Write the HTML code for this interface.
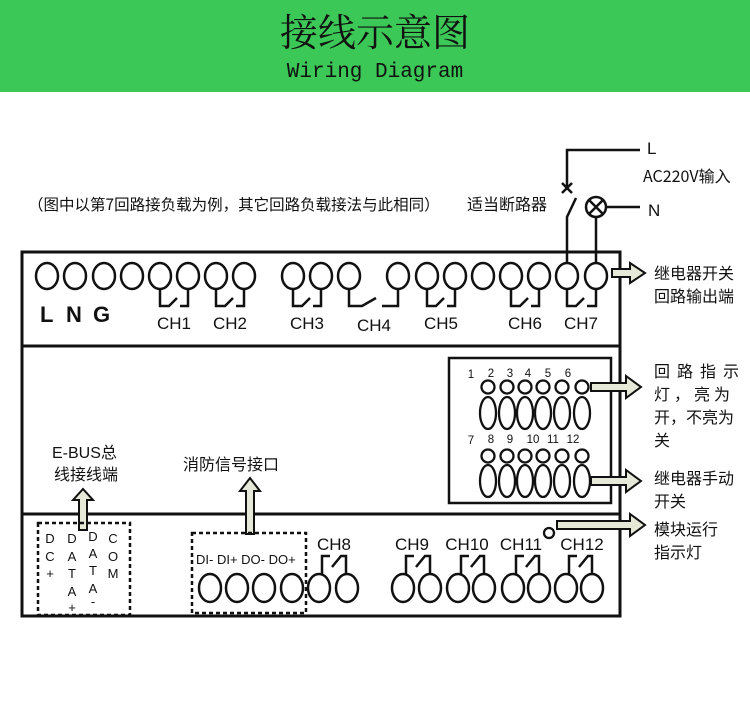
<!DOCTYPE html>
<html><head><meta charset="utf-8"><style>
html,body{margin:0;padding:0;background:#fff;}
svg{display:block;}
text{font-family:"Liberation Sans","Noto Sans CJK SC",sans-serif;fill:#111;}
.cjk{font-family:"Noto Sans CJK SC","WenQuanYi Zen Hei",sans-serif;}
</style></head><body>
<svg width="750" height="712" viewBox="0 0 750 712" xmlns="http://www.w3.org/2000/svg">
<rect x="0" y="0" width="750" height="92" fill="#3cc857"/>
<text x="375" y="46" text-anchor="middle" font-size="38" style="font-family:'Noto Serif CJK SC',serif">接线示意图</text>
<text x="375" y="77" text-anchor="middle" font-size="21" style="font-family:'Liberation Mono',monospace">Wiring Diagram</text>

<text x="28" y="210" font-size="15.5" class="cjk">（图中以第7回路接负载为例，其它回路负载接法与此相同）</text>
<text x="467" y="210" font-size="16" class="cjk">适当断路器</text>
<text x="647" y="154" font-size="17">L</text>
<text x="643" y="182" font-size="16" class="cjk">AC220V输入</text>
<text x="648" y="216" font-size="17">N</text>

<g fill="none" stroke="#111" stroke-width="2.5">
<path d="M567 262 V217 L576 198"/>
<path d="M567 188 V150 H640"/>
<path d="M562 183 L572 193 M572 183 L562 193"/>
<circle cx="596" cy="207" r="10"/>
<path d="M589 200 L603 214 M603 200 L589 214"/>
<path d="M606 207 H640 M596 217 V262"/>
<!-- main box -->
<rect x="22" y="252" width="598" height="364" stroke-width="3"/>
<path d="M22 346 H620 M22 514 H620" stroke-width="3"/>
<rect x="449" y="358" width="162" height="145" stroke-width="2.5"/>
</g>

<!-- top terminals -->
<g fill="none" stroke="#111" stroke-width="2.5">
<ellipse cx="47" cy="276" rx="11" ry="13"/><ellipse cx="75" cy="276" rx="11" ry="13"/>
<ellipse cx="104" cy="276" rx="11" ry="13"/><ellipse cx="132" cy="276" rx="11" ry="13"/>
<ellipse cx="160" cy="276" rx="11" ry="13"/><ellipse cx="188" cy="276" rx="11" ry="13"/>
<ellipse cx="216" cy="276" rx="11" ry="13"/><ellipse cx="244" cy="276" rx="11" ry="13"/>
<ellipse cx="293" cy="276" rx="11" ry="13"/><ellipse cx="321" cy="276" rx="11" ry="13"/>
<ellipse cx="349" cy="276" rx="11" ry="13"/><ellipse cx="398" cy="276" rx="11" ry="13"/>
<ellipse cx="427" cy="276" rx="11" ry="13"/><ellipse cx="455" cy="276" rx="11" ry="13"/>
<ellipse cx="483" cy="276" rx="11" ry="13"/><ellipse cx="511" cy="276" rx="11" ry="13"/>
<ellipse cx="539" cy="276" rx="11" ry="13"/><ellipse cx="567" cy="276" rx="11" ry="13"/>
<ellipse cx="596" cy="276" rx="11" ry="13"/>
<path d="M160 289 V306 H169 L177 298 M180 306 H188 V289"/>
<path d="M216 289 V306 H225 L233 298 M236 306 H244 V289"/>
<path d="M293 289 V306 H302 L310 298 M313 306 H321 V289"/>
<path d="M349 289 V306 H362 L376 298 M382 306 H398 V289"/>
<path d="M427 289 V306 H436 L444 298 M447 306 H455 V289"/>
<path d="M511 289 V306 H520 L528 298 M531 306 H539 V289"/>
<path d="M567 289 V306 H576 L584 298 M587 306 H596 V289"/>
</g>
<g font-size="22" font-weight="bold"><text x="40" y="322">L</text><text x="66" y="322">N</text><text x="93" y="322">G</text></g>
<g font-size="17" text-anchor="middle">
<text x="174" y="329">CH1</text><text x="230" y="329">CH2</text><text x="307" y="329">CH3</text>
<text x="374" y="331">CH4</text><text x="441" y="329">CH5</text><text x="525" y="329">CH6</text><text x="581" y="329">CH7</text>
</g>

<!-- indicators -->
<g font-size="11.5" text-anchor="middle">
<text x="471" y="378">1</text><text x="491" y="377">2</text><text x="510" y="377">3</text><text x="528" y="377">4</text><text x="548" y="377">5</text><text x="568" y="377">6</text>
<text x="471" y="444">7</text><text x="491" y="443">8</text><text x="510" y="443">9</text><text x="533" y="443">10</text><text x="553" y="443">11</text><text x="573" y="443">12</text>
</g>
<g fill="none" stroke="#111" stroke-width="2.3">
<circle cx="488" cy="387" r="6.5"/><circle cx="507" cy="387" r="6.5"/><circle cx="525" cy="387" r="6.5"/><circle cx="543" cy="387" r="6.5"/><circle cx="562" cy="387" r="6.5"/><circle cx="582" cy="387" r="6.5"/>
<ellipse cx="488" cy="413" rx="8" ry="16"/><ellipse cx="507" cy="413" rx="8" ry="16"/><ellipse cx="525" cy="413" rx="8" ry="16"/><ellipse cx="543" cy="413" rx="8" ry="16"/><ellipse cx="562" cy="413" rx="8" ry="16"/><ellipse cx="582" cy="413" rx="8" ry="16"/>
<circle cx="488" cy="456" r="6.5"/><circle cx="507" cy="456" r="6.5"/><circle cx="525" cy="456" r="6.5"/><circle cx="543" cy="456" r="6.5"/><circle cx="562" cy="456" r="6.5"/><circle cx="582" cy="456" r="6.5"/>
<ellipse cx="488" cy="481" rx="8" ry="16"/><ellipse cx="507" cy="481" rx="8" ry="16"/><ellipse cx="525" cy="481" rx="8" ry="16"/><ellipse cx="543" cy="481" rx="8" ry="16"/><ellipse cx="562" cy="481" rx="8" ry="16"/><ellipse cx="582" cy="481" rx="8" ry="16"/>
<circle cx="549" cy="533" r="5"/>
</g>

<!-- arrows right -->
<g fill="#e6e8d8" stroke="#111" stroke-width="2">
<path d="M612 269 H630 V263 L645 273 L630 283 V277 H612 Z"/>
<path d="M591 383 H626 V376 L641 387 L626 398 V391 H591 Z"/>
<path d="M591 477 H626 V470 L641 481 L626 492 V485 H591 Z"/>
<path d="M557 521 H630 V514 L645 525 L630 536 V529 H557 Z"/>
<path d="M79 530 V500 H73 L83 489 L93 500 H87 V530 Z"/>
<path d="M246 534 V491 H240 L250 478 L260 491 H254 V534 Z"/>
</g>

<g font-size="16" class="cjk">
<text x="654" y="279">继电器开关</text><text x="654" y="302">回路输出端</text>
<text x="654" y="377" letter-spacing="7">回路指示</text>
<text x="654" y="400" letter-spacing="4">灯，亮为</text>
<text x="654" y="423">开，不亮为</text>
<text x="654" y="446">关</text>
<text x="654" y="484">继电器手动</text><text x="654" y="507">开关</text>
<text x="654" y="535">模块运行</text><text x="654" y="558">指示灯</text>
<text x="52" y="458" style="font-family:'Liberation Sans','Noto Sans CJK SC',sans-serif">E-BUS总</text>
<text x="54" y="480">线接线端</text>
<text x="183" y="470">消防信号接口</text>
</g>

<!-- bottom -->
<g fill="none" stroke="#111" stroke-width="2.5" stroke-dasharray="4 3">
<rect x="38" y="523" width="92" height="92"/>
<rect x="192" y="533" width="114" height="80"/>
</g>
<g font-size="13" text-anchor="middle">
<text x="50" y="543">D</text><text x="50" y="561">C</text><text x="50" y="578">+</text>
<text x="72" y="543">D</text><text x="72" y="561">A</text><text x="72" y="578">T</text><text x="72" y="596">A</text><text x="72" y="612">+</text>
<text x="93" y="541">D</text><text x="93" y="558">A</text><text x="93" y="575">T</text><text x="93" y="593">A</text><text x="93" y="606">-</text>
<text x="113" y="543">C</text><text x="113" y="561">O</text><text x="113" y="578">M</text>
</g>
<text x="196" y="564" font-size="13">DI-  DI+ DO- DO+</text>
<g fill="none" stroke="#111" stroke-width="2.5">
<ellipse cx="210" cy="588" rx="11" ry="14"/><ellipse cx="237" cy="588" rx="11" ry="14"/>
<ellipse cx="264" cy="588" rx="11" ry="14"/><ellipse cx="292" cy="588" rx="11" ry="14"/>
<ellipse cx="319" cy="588" rx="11" ry="14"/><ellipse cx="347" cy="588" rx="11" ry="14"/>
<ellipse cx="403" cy="588" rx="11" ry="14"/><ellipse cx="430" cy="588" rx="11" ry="14"/>
<ellipse cx="458" cy="588" rx="11" ry="14"/><ellipse cx="484" cy="588" rx="11" ry="14"/>
<ellipse cx="513" cy="588" rx="11" ry="14"/><ellipse cx="539" cy="588" rx="11" ry="14"/>
<ellipse cx="566" cy="588" rx="11" ry="14"/><ellipse cx="592" cy="588" rx="11" ry="14"/>
<path d="M322 574 V556 H330 M332 567 L341 556 H346 V574"/>
<path d="M406 574 V556 H414 M416 567 L425 556 H430 V574"/>
<path d="M461 574 V556 H469 M471 567 L480 556 H484 V574"/>
<path d="M516 574 V556 H524 M526 567 L535 556 H539 V574"/>
<path d="M569 574 V556 H577 M579 567 L588 556 H592 V574"/>
</g>
<g font-size="17" text-anchor="middle">
<text x="334" y="550">CH8</text><text x="412" y="550">CH9</text><text x="467" y="550">CH10</text>
<text x="521" y="550">CH11</text><text x="582" y="550">CH12</text>
</g>
</svg>
</body></html>
